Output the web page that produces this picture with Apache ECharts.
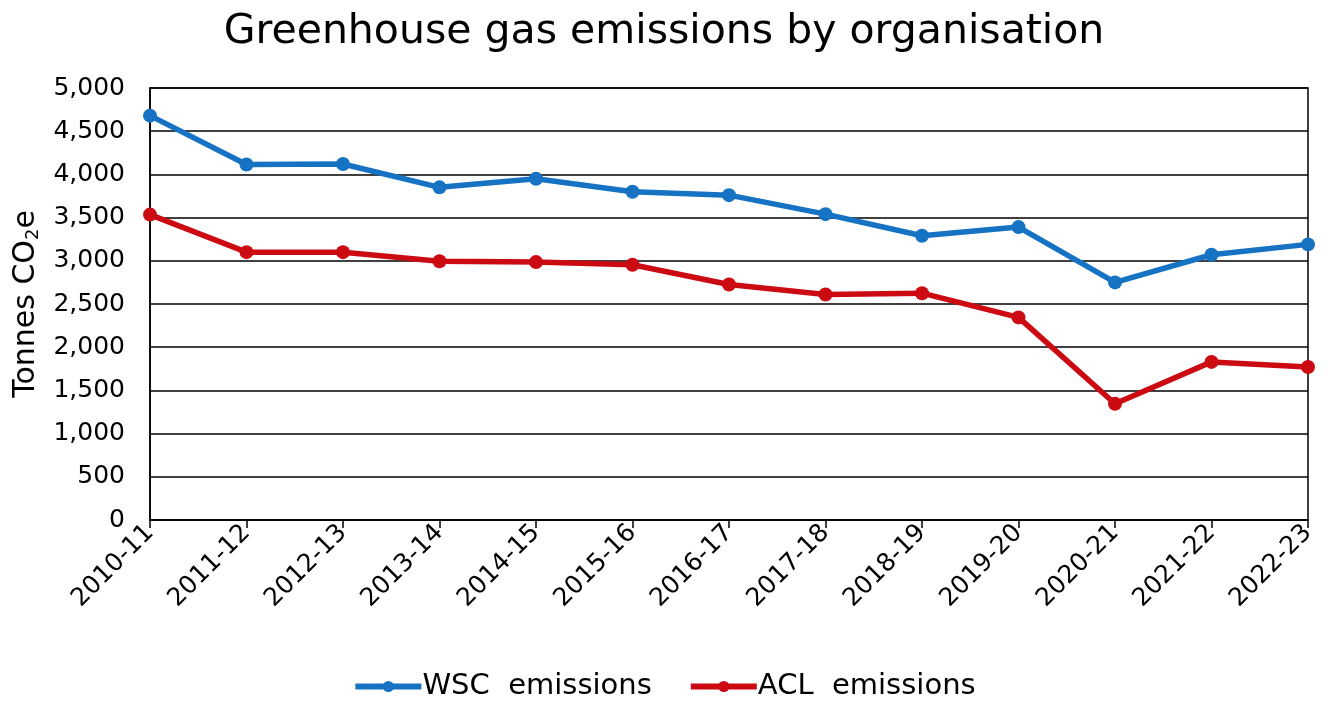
<!DOCTYPE html>
<html>
<head>
<meta charset="utf-8">
<script src="https://cdn.jsdelivr.net/npm/echarts@6/dist/echarts.min.js"></script>
<style>
  html, body { margin: 0; padding: 0; background: #fff; }
  #chart { width: 1328px; height: 704px; }
</style>
</head>
<body>
<div id="chart"></div>
<script>
const years = ['2010-11', '2011-12', '2012-13', '2013-14', '2014-15', '2015-16', '2016-17',
  '2017-18', '2018-19', '2019-20', '2020-21', '2021-22', '2022-23']
const wscEmissions = [4680, 4115, 4120, 3850, 3950, 3800, 3760, 3540, 3290, 3390, 2750, 3070, 3190]
const aclEmissions = [3535, 3100, 3100, 2995, 2985, 2955, 2725, 2610, 2625, 2345, 1345, 1830, 1770]

const font = 'DejaVu Sans, Verdana, sans-serif'

const chart = echarts.init(document.getElementById('chart'))

chart.setOption({
  backgroundColor: '#fff',
  animation: false,
  title: {
    text: 'Greenhouse gas emissions by organisation',
    left: 'center',
    top: 7,
    textStyle: { fontFamily: font, fontSize: 41, fontWeight: 'normal', color: '#000' }
  },
  legend: {
    bottom: -2,
    left: 'center',
    itemWidth: 66,
    itemHeight: 14,
    itemGap: 36,
    lineStyle: { width: 6 },
    textStyle: { fontFamily: font, fontSize: 29, color: '#000', padding: [0, 0, 0, -4] },
    data: ['WSC  emissions', 'ACL  emissions']
  },
  grid: {
    left: 150, right: 20, top: 88, bottom: 184,
    show: true, borderColor: '#000', borderWidth: 1.5
  },
  xAxis: {
    type: 'category',
    data: years,
    boundaryGap: false,
    axisLine: { lineStyle: { color: '#000', width: 1.5 } },
    axisTick: { show: true, length: 8, lineStyle: { color: '#000', width: 1.5 } },
    axisLabel: {
      rotate: 45, margin: 9, fontFamily: font, fontSize: 25, color: '#000'
    }
  },
  yAxis: {
    type: 'value',
    min: 0, max: 5000, interval: 500,
    name: '{a|Tonnes CO}{s|2}{a|e}',
    nameLocation: 'middle',
    nameGap: 108,
    nameTextStyle: {
      rich: {
        a: { fontFamily: font, fontSize: 30, color: '#000' },
        s: { fontFamily: font, fontSize: 18, color: '#000', verticalAlign: 'bottom', padding: [14, 0, 0, 0] }
      }
    },
    axisLine: { show: true, lineStyle: { color: '#000', width: 1.5 } },
    axisTick: { show: false },
    splitLine: { lineStyle: { color: '#000', width: 1.5 } },
    axisLabel: {
      margin: 25, fontFamily: font, fontSize: 25, color: '#000',
      formatter: v => v.toLocaleString('en-US')
    }
  },
  series: [
    {
      name: 'WSC  emissions',
      type: 'line',
      data: wscEmissions,
      color: '#1672C2',
      symbol: 'circle',
      symbolSize: 14,
      lineStyle: { width: 5.5 }
    },
    {
      name: 'ACL  emissions',
      type: 'line',
      data: aclEmissions,
      color: '#CC0A12',
      symbol: 'circle',
      symbolSize: 14,
      lineStyle: { width: 5.5 }
    }
  ]
})

window.addEventListener('resize', () => chart.resize())
</script>
</body>
</html>
